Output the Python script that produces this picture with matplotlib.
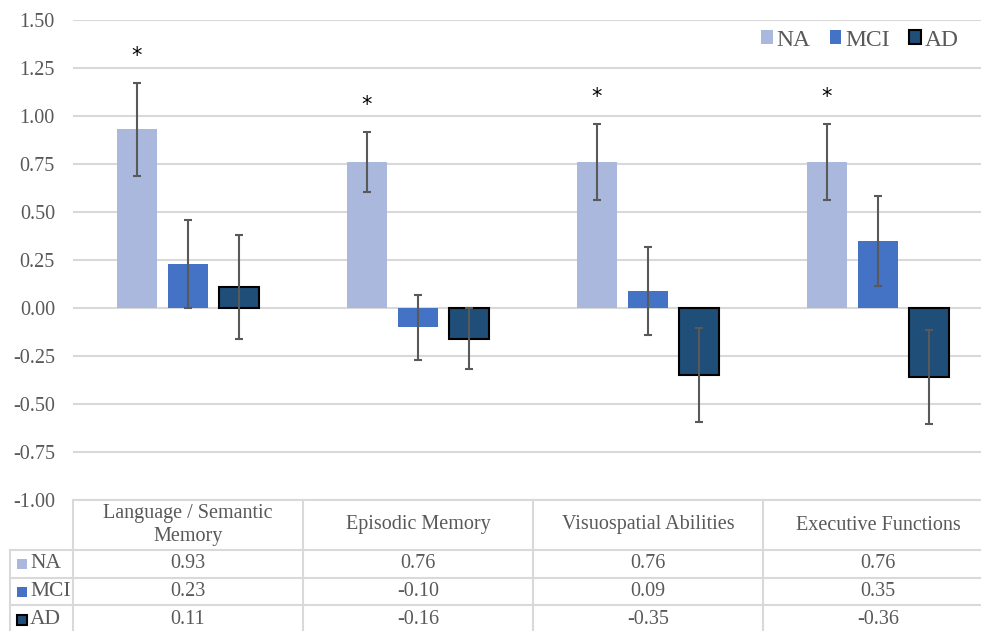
import matplotlib.pyplot as plt
import numpy as np
from matplotlib.transforms import blended_transform_factory

plt.rcParams['font.family'] = ['Liberation Serif', 'DejaVu Serif']

# data
categories = ["Language / Semantic\nMemory", "Episodic Memory", "Visuospatial Abilities", "Executive Functions"]
groups = ["NA", "MCI", "AD"]
na = [0.93, 0.76, 0.76, 0.76]
mci = [0.23, -0.10, 0.09, 0.35]
ad = [0.11, -0.16, -0.35, -0.36]
na_err = [0.24, 0.155, 0.20, 0.20]
mci_err = [0.23, 0.17, 0.23, 0.235]
ad_err = [0.27, 0.16, 0.245, 0.245]
stars = [True, True, True, True]

colors = ["#a9b8dc", "#4472c4", "#1f4e79"]
edges = ["none", "none", "black"]
grid_c = "#d9d9d9"
txt_c = "#595959"
fs = 14.5

fig = plt.figure(figsize=(9.81, 6.31), dpi=100)
ax = fig.add_axes([73/981, 131/631, 920/981, 480/631])

x = np.arange(len(categories))
w = 0.174
off = 0.222
vals = [na, mci, ad]
errs = [na_err, mci_err, ad_err]
for i in range(3):
    ax.bar(x + (i-1)*off, vals[i], w, color=colors[i], edgecolor=edges[i],
           linewidth=1.5 if i == 2 else 0, label=groups[i], zorder=3)
    ax.errorbar(x + (i-1)*off, vals[i], yerr=errs[i], fmt='none', ecolor=txt_c,
                elinewidth=1.5, capsize=3, capthick=1.5, zorder=4)

# asterisks over NA bars
for j in range(len(categories)):
    if stars[j]:
        ax.text(x[j] - off, na[j] + na_err[j] + 0.14, "*", ha='center', va='center',
                fontsize=15, color='black', family='DejaVu Sans', zorder=5)

ax.set_xlim(-0.5, 3.5)
ax.set_ylim(-1.0, 1.5)
ax.set_yticks(np.arange(-1.0, 1.51, 0.25))
ax.set_yticklabels(["%.2f" % v for v in np.arange(-1.0, 1.51, 0.25)])
ax.tick_params(axis='y', length=0, pad=13, labelsize=fs, labelcolor=txt_c)
ax.set_xticks([])
ax.yaxis.grid(True, color=grid_c, linewidth=1.5, zorder=0)
ax.set_axisbelow(True)
for s in ax.spines.values():
    s.set_visible(False)

ax.legend(loc='center right', bbox_to_anchor=(980/981, 1 - 40/631), bbox_transform=fig.transFigure,
          ncol=3, frameon=False, fontsize=17, handlelength=0.5, handleheight=0.5,
          handletextpad=0.17, columnspacing=0.8, labelcolor=txt_c)

# data table under the plot
tr = blended_transform_factory(ax.transData, ax.transAxes)
px = 1/480
rows_y = [0, -50*px, -78*px, -105*px, -135*px]
left_x = -0.5 - 63/230
ln = dict(color=grid_c, linewidth=1.5, transform=tr, clip_on=False)
ax.plot([-0.5, 3.5], [0, 0], **ln)
for y in rows_y[1:4]:
    ax.plot([left_x, 3.5], [y, y], **ln)
ax.plot([left_x, left_x], [rows_y[1], rows_y[4]], **ln)
for b in np.arange(-0.5, 3.6, 1.0):
    ax.plot([b, b], [0, rows_y[4]], **ln)

for j, c in enumerate(categories):
    ax.text(x[j], (rows_y[0] + rows_y[1])/2, c, ha='center', va='center', fontsize=fs,
            color=txt_c, transform=tr, linespacing=1.35)
for i in range(3):
    yc = (rows_y[i+1] + rows_y[i+2])/2
    for j in range(len(categories)):
        ax.text(x[j], yc, "%.2f" % vals[i][j], ha='center', va='center', fontsize=fs,
                color=txt_c, transform=tr)
    ax.add_patch(plt.Rectangle((left_x + 7/230, yc - 5*px), 10/230, 10*px, transform=tr,
                               facecolor=colors[i], edgecolor=edges[i], linewidth=1.5 if i == 2 else 0,
                               clip_on=False))
    ax.text(left_x + 20/230, yc, groups[i], ha='left', va='center', fontsize=fs + 1,
            color=txt_c, transform=tr)

fig.savefig("out.png", dpi=100)
